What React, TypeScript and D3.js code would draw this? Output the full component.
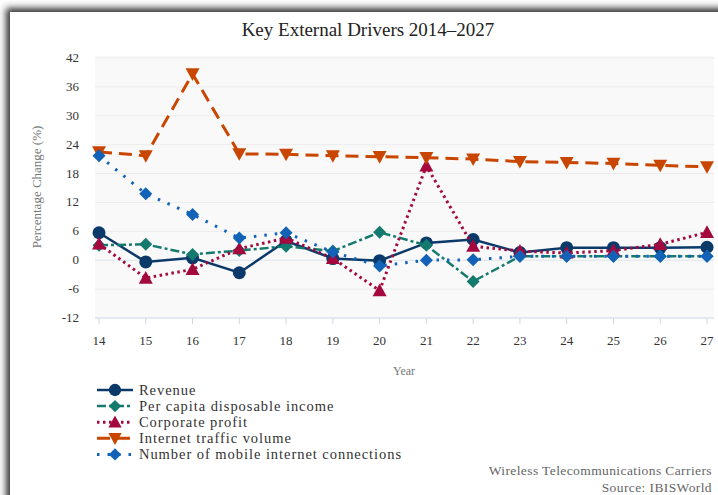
import React from "react";
import * as d3 from "d3";

const years = ["14", "15", "16", "17", "18", "19", "20", "21", "22", "23", "24", "25", "26", "27"];
const revenue = [5.7, -0.35, 0.5, -2.6, 4.0, 0.35, -0.1, 3.6, 4.3, 1.6, 2.6, 2.6, 2.6, 2.7];
const disposableIncome = [3.1, 3.3, 1.2, 2.0, 2.9, 1.9, 5.8, 3.1, -4.4, 0.8, 0.8, 0.8, 0.8, 0.8];
const corporateProfit = [3.4, -3.7, -1.9, 2.4, 4.6, 0.4, -6.3, 19.6, 2.9, 1.9, 1.5, 2.0, 3.3, 5.8];
const trafficVolume = [22.5, 21.7, 38.7, 22.1, 22.0, 21.7, 21.5, 21.3, 21.0, 20.5, 20.3, 20.1, 19.7, 19.4];
const mobileConnections = [21.7, 13.8, 9.5, 4.6, 5.7, 1.7, -1.2, 0.0, 0.1, 0.8, 0.8, 0.8, 0.8, 0.8];
const yTicks = [-12, -6, 0, 6, 12, 18, 24, 30, 36, 42];

type Marker = "circle" | "diamond" | "triangle" | "triangle-down";

const series: { name: string; values: number[]; color: string; dash: string; width: number; marker: Marker }[] = [
  { name: "Revenue", values: revenue, color: "#0b3a6a", dash: "none", width: 2.5, marker: "circle" },
  { name: "Per capita disposable income", values: disposableIncome, color: "#157a6e", dash: "9,3,3,3", width: 2.5, marker: "diamond" },
  { name: "Corporate profit", values: corporateProfit, color: "#a3093e", dash: "2.5,3.5", width: 3, marker: "triangle" },
  { name: "Internet traffic volume", values: trafficVolume, color: "#c94600", dash: "13,7", width: 3, marker: "triangle-down" },
  { name: "Number of mobile internet connections", values: mobileConnections, color: "#1262b8", dash: "2.5,8", width: 3, marker: "diamond" },
];

const W = 718;
const H = 495;
const plot = { left: 95, right: 714, top: 56, bottom: 318 };
const font = "'Liberation Serif', 'Times New Roman', serif";

const symbolPath = (m: Marker, cx: number, cy: number, s: number) => {
  if (m === "diamond") return `M${cx},${cy - s}L${cx + s},${cy}L${cx},${cy + s}L${cx - s},${cy}Z`;
  if (m === "triangle") return `M${cx},${cy - s}L${cx + s},${cy + s * 0.8}L${cx - s},${cy + s * 0.8}Z`;
  if (m === "triangle-down") return `M${cx - s},${cy - s * 0.8}L${cx + s},${cy - s * 0.8}L${cx},${cy + s}Z`;
  return "";
};

const MarkerShape = ({ m, cx, cy, color, size = 1 }: { m: Marker; cx: number; cy: number; color: string; size?: number }) =>
  m === "circle" ? (
    <circle cx={cx} cy={cy} r={6.5 * size} fill={color} />
  ) : (
    <path d={symbolPath(m, cx, cy, (m === "diamond" ? 6.5 : 7) * size)} fill={color} />
  );

const App = () => {
  const x = d3.scalePoint<string>().domain(years).range([99, 707]);
  const y = d3.scaleLinear().domain([-12, 42]).range([plot.bottom, plot.top + 2]);
  const line = d3
    .line<number>()
    .x((_d, i) => x(years[i]) as number)
    .y((d) => y(d));

  return (
    <svg width={W} height={H} style={{ position: "absolute", left: 0, top: 0, display: "block" }}>
      <defs>
        <filter id="shadow" x="-5%" y="-5%" width="110%" height="110%">
          <feDropShadow dx={-4} dy={-4} stdDeviation={3.5} floodColor="#333" floodOpacity={1} />
        </filter>
      </defs>
      <rect x={0} y={0} width={W} height={H} fill="#fff" />
      <rect x={10} y={12} width={W + 20} height={H + 20} fill="#fff" filter="url(#shadow)" />

      <text x={368} y={36} textAnchor="middle" fontFamily={font} fontSize={19} fill="#222">
        Key External Drivers 2014–2027
      </text>

      <rect x={plot.left} y={plot.top} width={plot.right - plot.left} height={plot.bottom - plot.top} fill="#f9f9f9" />
      {yTicks.map((t) => (
        <g key={t}>
          {t !== -12 && (
            <line x1={plot.left} x2={plot.right} y1={y(t)} y2={y(t)} stroke={t === 0 ? "#dde3ee" : "#ececec"} strokeWidth={1} />
          )}
          <text x={79} y={y(t) + 4} textAnchor="end" fontFamily={font} fontSize={13} fill="#333">
            {t}
          </text>
        </g>
      ))}
      <line x1={plot.left} x2={plot.right} y1={plot.bottom} y2={plot.bottom} stroke="#ccd6eb" strokeWidth={1} />
      {years.map((yr) => (
        <g key={yr}>
          <line x1={x(yr)} x2={x(yr)} y1={plot.bottom} y2={plot.bottom + 6} stroke="#ccd6eb" strokeWidth={1} />
          <text x={x(yr)} y={345} textAnchor="middle" fontFamily={font} fontSize={13} fill="#333">
            {yr}
          </text>
        </g>
      ))}
      <text
        transform={`translate(41,${(plot.top + plot.bottom) / 2}) rotate(-90)`}
        textAnchor="middle"
        fontFamily={font}
        fontSize={13}
        fill="#777"
      >
        Percentage Change (%)
      </text>
      <text x={404} y={375} textAnchor="middle" fontFamily={font} fontSize={12} fill="#777">
        Year
      </text>

      {series.map((s) => (
        <g key={s.name}>
          <path d={line(s.values) as string} fill="none" stroke={s.color} strokeWidth={s.width} strokeDasharray={s.dash} />
          {s.values.map((v, i) => (
            <MarkerShape key={i} m={s.marker} cx={x(years[i]) as number} cy={y(v)} color={s.color} />
          ))}
        </g>
      ))}

      {series.map((s, i) => {
        const ly = 390 + i * 16.1;
        return (
          <g key={s.name}>
            <line x1={97} x2={133} y1={ly} y2={ly} stroke={s.color} strokeWidth={s.width} strokeDasharray={s.dash} />
            <MarkerShape m={s.marker} cx={115} cy={ly} color={s.color} size={0.95} />
            <text x={139} y={ly + 5} fontFamily={font} fontSize={14.5} letterSpacing={0.95} fill="#333">
              {s.name}
            </text>
          </g>
        );
      })}

      <text x={712} y={475} textAnchor="end" fontFamily={font} fontSize={13.5} letterSpacing={0.4} fill="#666">
        Wireless Telecommunications Carriers
      </text>
      <text x={712} y={491.5} textAnchor="end" fontFamily={font} fontSize={13.5} letterSpacing={0.4} fill="#666">
        Source: IBISWorld
      </text>
    </svg>
  );
};

export default App;
